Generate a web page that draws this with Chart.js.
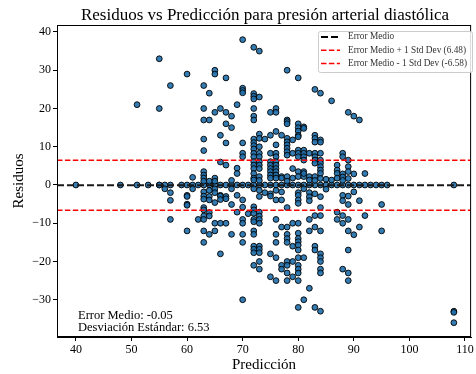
<!DOCTYPE html>
<html>
<head>
<meta charset="utf-8">
<script src="https://cdn.jsdelivr.net/npm/chart.js@4.4.0/dist/chart.umd.min.js"></script>
<style>
  html, body { margin: 0; padding: 0; background: #fff; }
</style>
</head>
<body>
<canvas id="chart" width="476" height="374"></canvas>
<script>
const prediccion = [40, 48, 51, 53, 55, 56, 57, 59, 60, 61, 62, 63, 64, 65, 66, 67, 68, 69, 70, 71,
  72, 73, 74, 75, 76, 77, 78, 79, 80, 81, 82, 83, 84, 85, 86, 87, 88, 89, 90, 91, 92, 93, 94, 95, 96, 108];
const residuos = [
  [0], [0], [0, 21], [0], [0, 0, 33, 20], [0, -1], [0, 26, -2, -4, -9], [0],
  [0, 29, -2.7, -3, -5, -5.3, -12], [0, 2, -1], [0, -9],
  [0, 26, 20, 17, 12, 9, 3.5, 2.6, 1.8, 1, -1.8, -2.9, -3.7, -5.9, -6.5, -8.1, -9, -12, -15],
  [0, 24, 17, 1, -1.4, -3, -3.9, -7.2, -8.1, -12.9],
  [0, 30, 29, 19, 1.8, 1, -1, -2, -4.6, -10, -12],
  [0, 20, 13, 6, -2.7, -2.9, -3.8, -10, -18],
  [0, 28, 19, 16, 11, 5.2, -3, -3.6, -10],
  [0, 18, 15, 1.2, -1, -5.1, -12.9],
  [0, 21, 4.4, 3, -2.7, -7.1],
  [0, 38, 25.3, 24.7, 24.1, 11, 8.3, 7.4, -3.9, -5.8, -9, -10, -12.9, -15, -30],
  [0, -7.5],
  [0, 36, 23.9, 23.2, 22.5, 20, 18, 17, 12, 11.1, 10.3, 9.4, 8.3, 7.4, 6.1, 5.2, 4.3, 3, 1.8, 1.3, -1,
    -5.7, -6.5, -7.4, -9, -9.6, -12, -12.9, -16, -16.8, -17.7, -21],
  [0, 35, 23, 13.3, 12.2, 10, 8.3, 7.4, 6.1, 5.2, 4.3, 2.2, 1.2, -1.4, -3, -7.1, -8.1, -9, -10, -16,
    -16.8, -17.7, -20, -22],
  [0, 12, -2],
  [0, 19, 13, 8.3, 6.1, 5.2, 4.3, 3.5, 2.6, 1.8, -2.3, -2.9, -18, -24],
  [0, 20, 19, 14, 10.5, 8.3, 7.4, 6.1, 5.2, 4.3, 3.5, 2.6, 1.8, -1.4, -3.9, -9, -12.9, -15, -19, -25],
  [0, 13, 2.2, 1.8, -1.8, -3.9, -11, -21, -22],
  [0, 30, 17, 16.6, 16, 12.2, 11.3, 10.5, 9.6, 8.7, 7.8, 2.2, 1, -5.9, -11, -12.9, -14, -15, -20, -21, -23, -25],
  [0, 11.8, 8.3, 4.3, 1.8, -10, -16, -20, -24],
  [0, 28, 16, 15, 14.1, 13, 12.6, 9.1, 8.3, 7.4, 3.5, 2.2, -2, -2.7, -3.9, -4.8, -10, -12.6, -14, -14.8,
    -15.7, -17, -19, -21, -22, -23, -25, -32],
  [0, 15.2, 14.8, 9.1, 8.3, 7.4, 6.5, 3.5, 2.2, 3, -1, -19, -30],
  [0, 8.3, 2.2, 1.3, -2, -3.1, -4.1, -9, -12, -27],
  [0, 25, 13, 12.2, 11.2, 8.3, 7.4, 6.5, 5.7, 2.2, 1.2, -2.3, -8, -11, -16, -17, -32],
  [0, 24, 11.8, 11.2, 8.3, 6.5, 5.7, 4.8, 3.9, 3.05, 1.7, -3.05, -5.9, -8, -12, -18, -19, -20, -22, -23, -33],
  [0, 1.5, -1.1], [0, 22, 1.3],
  [0, 5.2, 3.9, 3.05, 1.8, -7.1, -9],
  [0, 8.3, 7.4, 2.9, 2.1, 1.2, -2.7, -4.1, -8, -10, -22],
  [0, 19, 6.5, 4.8, 3.5, 1.7, -2.9, -5.1, -9, -12, -17, -23, -25],
  [0, 18, 2.9, -1.8, -13], [0, 17, -4.1, -11], [0, 3, -8], [0], [0], [0, -5.1, -12], [0],
  [0, -33, -33.3, -36]
];

const errorMedio = -0.05;
const desviacion = 6.53;
const limiteSup = 6.48;
const limiteInf = -6.58;

const xTicks = [40, 50, 60, 70, 80, 90, 100, 110];
const yTicks = [-30, -20, -10, 0, 10, 20, 30, 40];
const xMin = 36.6, xMax = 111.1;
const yMin = -39.74, yMax = 41.83;

const serif = "'Liberation Serif', 'Times New Roman', serif";
Chart.defaults.font.family = serif;

const puntos = [];
prediccion.forEach((p, i) => {
  residuos[i].forEach(r => puntos.push({ x: p, y: r }));
});

function lineaH(y) {
  return [{ x: xMin, y: y }, { x: xMax, y: y }];
}

function fmt(v) {
  return v < 0 ? '\u2212' + Math.abs(v) : String(v);
}

// marco completo + textos extra
const extras = {
  id: 'extras',
  afterDatasetsDraw(chart) {
    const { ctx, chartArea: a } = chart;
    ctx.save();
    ctx.strokeStyle = '#000';
    ctx.lineWidth = 1;
    ctx.strokeRect(a.left + 0.5, a.top + 0.5, a.right - a.left - 1, a.bottom - a.top - 1);
    ctx.restore();
  },
  afterDraw(chart) {
    const { ctx, chartArea: a } = chart;
    ctx.save();
    ctx.fillStyle = '#000';
    ctx.font = '17px ' + serif;
    ctx.textAlign = 'center';
    ctx.textBaseline = 'alphabetic';
    ctx.fillText('Residuos vs Predicción para presión arterial diastólica', (a.left + a.right) / 2 + 1, 19.5);

    ctx.textAlign = 'left';
    ctx.font = '12.5px ' + serif;
    ctx.fillText('Error Medio: ' + errorMedio.toFixed(2), a.left + 21, 319);
    ctx.fillText('Desviación Estándar: ' + desviacion.toFixed(2), a.left + 21, 331);

    // leyenda
    const lx = 318, ly = 31, lw = 154, lh = 41;
    ctx.fillStyle = 'rgba(255,255,255,0.85)';
    ctx.strokeStyle = '#cccccc';
    ctx.lineWidth = 1;
    ctx.beginPath();
    ctx.roundRect(lx + 0.5, ly + 0.5, lw, lh, 2);
    ctx.fill();
    ctx.stroke();
    const items = [
      { t: 'Error Medio', c: '#000', w: 2, d: [7, 3] },
      { t: 'Error Medio + 1 Std Dev (' + limiteSup.toFixed(2) + ')', c: '#ff0000', w: 1.5, d: [5.5, 2.4] },
      { t: 'Error Medio - 1 Std Dev (' + limiteInf.toFixed(2) + ')', c: '#ff0000', w: 1.5, d: [5.5, 2.4] }
    ];
    ctx.font = '9.3px ' + serif;
    ctx.textBaseline = 'middle';
    items.forEach((it, i) => {
      const yy = 37 + i * 13.3;
      ctx.beginPath();
      ctx.setLineDash(it.d);
      ctx.strokeStyle = it.c;
      ctx.lineWidth = it.w;
      ctx.moveTo(321, yy);
      ctx.lineTo(340, yy);
      ctx.stroke();
      ctx.setLineDash([]);
      ctx.fillStyle = '#333';
      ctx.fillText(it.t, 348, yy);
    });
    ctx.restore();
  }
};

new Chart(document.getElementById('chart').getContext('2d'), {
  type: 'scatter',
  data: {
    datasets: [
      {
        type: 'line', data: lineaH(errorMedio), borderColor: '#1a1a1a', borderWidth: 2,
        borderDash: [7, 3], pointRadius: 0, order: 0
      },
      {
        type: 'line', data: lineaH(limiteSup), borderColor: '#ff0000', borderWidth: 1.5,
        borderDash: [5.5, 2.4], pointRadius: 0, order: 0
      },
      {
        type: 'line', data: lineaH(limiteInf), borderColor: '#ff0000', borderWidth: 1.5,
        borderDash: [5.5, 2.4], pointRadius: 0, order: 0
      },
      {
        data: puntos, backgroundColor: 'rgba(31,110,170,0.9)', borderColor: '#000',
        borderWidth: 0.9, pointRadius: 2.9, order: 1
      }
    ]
  },
  options: {
    responsive: false,
    animation: false,
    devicePixelRatio: 1,
    layout: { padding: { top: 25, right: 2, left: 0, bottom: 0 } },
    plugins: { legend: { display: false }, tooltip: { enabled: false }, title: { display: false } },
    events: [],
    scales: {
      x: {
        type: 'linear', min: xMin, max: xMax,
        afterBuildTicks: s => { s.ticks = xTicks.map(v => ({ value: v })); },
        afterFit: s => { s.height = 37; },
        grid: { drawOnChartArea: false, drawTicks: true, tickLength: 4, tickColor: '#000' },
        border: { display: true, color: '#000', width: 1 },
        ticks: { color: '#000', font: { size: 12 }, padding: 2, maxRotation: 0, autoSkip: false, callback: v => fmt(v) },
        title: { display: true, text: 'Predicción', color: '#000', font: { size: 15 }, padding: { top: 0, bottom: 0 } }
      },
      y: {
        type: 'linear', min: yMin, max: yMax,
        afterBuildTicks: s => { s.ticks = yTicks.map(v => ({ value: v })); },
        afterFit: s => { s.width = 57; },
        grid: { drawOnChartArea: false, drawTicks: true, tickLength: 4, tickColor: '#000' },
        border: { display: true, color: '#000', width: 1 },
        ticks: { color: '#000', font: { size: 12 }, padding: 2, autoSkip: false, callback: v => fmt(v) },
        title: { display: true, text: 'Residuos', color: '#000', font: { size: 15 }, padding: { top: 10, bottom: 0 } }
      }
    }
  },
  plugins: [extras]
});
</script>
</body>
</html>
